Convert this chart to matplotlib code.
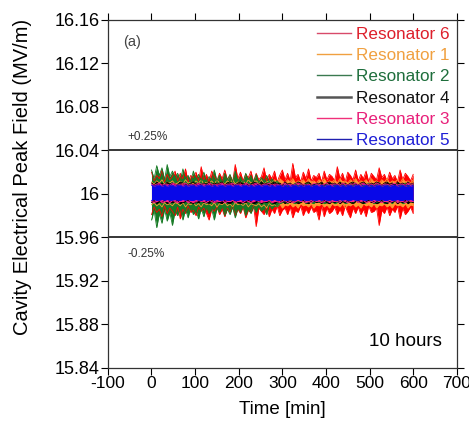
import numpy as np
import matplotlib
matplotlib.use("Agg")
import matplotlib.pyplot as plt
from matplotlib.ticker import FuncFormatter, MultipleLocator

plt.rcParams['font.family'] = ['Liberation Sans', 'DejaVu Sans']
plt.rcParams['axes.unicode_minus'] = False

# Upper / lower envelope of each noisy trace, deviation from 16.000 MV/m in units of 0.001 MV/m,
# sampled uniformly over 0..600 min (101 samples)
res6_hi = [20,12,17,14,22,11,18,13,16,21, 12,19,14,23,11,17,15,20,12,25,
           13,18,11,21,16,12,19,14,22,13, 17,11,27,14,20,12,18,15,21,11,
           19,13,16,24,12,18,14,21,11,17, 22,13,19,12,28,15,18,11,20,14,
           23,12,17,15,19,11,21,13,18,16, 12,25,14,19,11,20,17,13,22,12,
           18,14,21,11,19,16,13,24,15,18, 12,20,14,17,11,22,13,19,16,12, 18]
res6_lo = [-19,-12,-17,-14,-21,-11,-18,-13,-16,-20, -12,-23,-14,-18,-11,-17,-15,-20,-12,-16,
           -13,-18,-24,-14,-16,-12,-19,-14,-21,-13, -17,-11,-20,-14,-18,-12,-22,-15,-17,-11,
           -30,-13,-16,-19,-12,-21,-14,-18,-11,-20, -15,-13,-19,-12,-22,-15,-17,-11,-20,-14,
           -18,-12,-17,-15,-24,-11,-21,-13,-18,-16, -12,-19,-14,-20,-11,-17,-22,-13,-18,-12,
           -19,-14,-21,-11,-17,-16,-13,-29,-15,-18, -12,-20,-14,-17,-11,-23,-13,-19,-16,-12, -18]
res1_hi = [11,9,12,10,13,9,11,10,12,9, 10,12,9,13,10,11,9,12,10,13,
           9,11,10,12,9,13,10,11,9,12, 10,13,9,11,10,12,9,13,10,11,
           12,10,13,9,11,12,10,13,11,14, 12,10,13,11,14,10,12,11,13,10,
           14,11,12,10,13,11,14,10,12,11, 13,10,14,11,12,10,13,11,14,10,
           12,11,13,10,14,11,12,10,13,11, 14,10,12,11,13,10,14,11,12,10, 13]
res1_lo = [-10,-8,-11,-9,-12,-8,-10,-9,-11,-8, -9,-11,-8,-12,-9,-10,-8,-11,-9,-12,
           -8,-10,-9,-11,-8,-12,-9,-10,-8,-11, -9,-12,-8,-10,-9,-11,-8,-12,-9,-10,
           -11,-9,-12,-10,-13,-9,-11,-10,-12,-9, -13,-10,-11,-9,-12,-10,-13,-9,-11,-10,
           -12,-9,-13,-10,-11,-9,-12,-10,-13,-9, -11,-10,-12,-9,-13,-10,-11,-9,-12,-10,
           -13,-9,-11,-10,-12,-9,-13,-10,-11,-9, -12,-10,-13,-9,-11,-10,-12,-9,-13,-10, -11]
res2_hi = [22,14,26,17,24,13,27,16,21,15, 19,12,23,14,17,11,21,13,18,12,
           20,11,16,13,22,12,17,10,19,13, 18,11,21,12,16,10,19,13,17,11,
           18,10,15,12,17,11,14,10,12,9, 8,10,7,9,8,10,7,9,8,9,
           10,7,9,8,10,8,7,9,8,10, 7,9,8,10,7,8,9,7,10,8,
           9,7,8,10,7,9,8,10,7,9, 8,7,10,8,9,7,8,10,7,9, 8]
res2_lo = [-24,-15,-31,-18,-27,-14,-25,-17,-29,-16, -20,-13,-24,-14,-22,-12,-19,-15,-23,-13,
           -21,-12,-18,-14,-24,-13,-17,-11,-20,-14, -19,-12,-22,-13,-17,-11,-20,-14,-18,-12,
           -17,-11,-16,-13,-19,-10,-14,-11,-12,-9, -8,-7,-9,-6,-8,-9,-7,-8,-6,-9,
           -7,-8,-9,-6,-8,-7,-9,-8,-6,-7, -9,-8,-7,-6,-9,-8,-7,-9,-6,-8,
           -7,-9,-8,-6,-7,-9,-8,-7,-6,-9, -8,-7,-9,-6,-8,-7,-9,-8,-6,-7, -8]
res4_hi = [10,8,11,9,10,8,11,9,10,9, 8,11,10,9,8,10,11,9,10,8,
           10,9,11,8,10,9,10,11,8,10, 11,9,8,10,11,9,10,8,9,11,
           10,8,11,9,10,8,10,11,9,10, 8,11,9,10,8,9,11,10,8,10,
           11,9,8,10,9,11,8,10,11,9, 10,8,11,9,10,8,10,11,9,8,
           10,11,9,8,10,9,11,10,8,10, 11,9,10,8,11,9,10,8,11,9, 10]
res4_lo = [-8,-6,-9,-7,-8,-6,-9,-7,-8,-7, -6,-9,-8,-7,-6,-8,-9,-7,-8,-6,
           -8,-7,-9,-6,-8,-7,-8,-9,-6,-8, -9,-7,-6,-8,-9,-7,-8,-6,-7,-9,
           -8,-6,-9,-7,-8,-6,-8,-9,-7,-8, -6,-9,-7,-8,-6,-7,-9,-8,-6,-8,
           -9,-7,-6,-8,-7,-9,-6,-8,-9,-7, -8,-6,-9,-7,-8,-6,-8,-9,-7,-6,
           -8,-9,-7,-6,-8,-7,-9,-8,-6,-8, -9,-7,-8,-6,-9,-7,-8,-6,-9,-7, -8]
res3_hi = [9,8,9,10,8,9,9,8,10,9, 8,9,9,10,8,9,8,9,10,9,
           9,8,10,9,8,9,9,10,8,9, 9,10,8,9,9,8,10,9,8,9,
           10,9,8,9,9,10,8,9,9,8, 9,10,8,9,8,9,10,9,9,8,
           9,8,10,9,9,8,9,10,8,9, 9,9,8,10,9,8,9,9,10,8,
           9,10,8,9,9,8,10,9,8,9, 9,8,9,10,8,9,9,8,10,9, 9]
res3_lo = [-7,-8,-7,-6,-8,-7,-7,-8,-6,-7, -8,-7,-7,-6,-8,-7,-8,-7,-6,-7,
           -7,-8,-6,-7,-8,-7,-7,-6,-8,-7, -7,-6,-8,-7,-7,-8,-6,-7,-8,-7,
           -6,-7,-8,-7,-7,-6,-8,-7,-7,-8, -7,-6,-8,-7,-8,-7,-6,-7,-7,-8,
           -7,-8,-6,-7,-7,-8,-7,-6,-8,-7, -7,-7,-8,-6,-7,-8,-7,-7,-6,-8,
           -7,-6,-8,-7,-7,-8,-6,-7,-8,-7, -7,-8,-7,-6,-8,-7,-7,-8,-6,-7, -7]
res5_hi = [8,7,8,8,7,8,7,8,8,7, 8,8,7,8,7,8,8,7,8,8, 7,8,8,7,8,7,8,8,7,8,
           8,7,8,8,7,8,8,7,8,7, 8,8,7,8,8,7,8,7,8,8, 7,8,8,7,8,8,7,8,7,8,
           8,7,8,8,7,8,7,8,8,7, 8,8,7,8,7,8,8,7,8,8, 7,8,8,7,8,7,8,8,7,8,
           8,7,8,8,7,8,8,7,8,7, 8]
res5_lo = [-6,-5,-6,-6,-5,-6,-5,-6,-6,-5, -6,-6,-5,-6,-5,-6,-6,-5,-6,-6, -5,-6,-6,-5,-6,-5,-6,-6,-5,-6,
           -6,-5,-6,-6,-5,-6,-6,-5,-6,-5, -6,-6,-5,-6,-6,-5,-6,-5,-6,-6, -5,-6,-6,-5,-6,-6,-5,-6,-5,-6,
           -6,-5,-6,-6,-5,-6,-5,-6,-6,-5, -6,-6,-5,-6,-5,-6,-6,-5,-6,-6, -5,-6,-6,-5,-6,-5,-6,-6,-5,-6,
           -6,-5,-6,-6,-5,-6,-6,-5,-6,-5, -6]

labels = ["Resonator 6", "Resonator 1", "Resonator 2", "Resonator 4", "Resonator 3", "Resonator 5"]
highs = [res6_hi, res1_hi, res2_hi, res4_hi, res3_hi, res5_hi]
lows = [res6_lo, res1_lo, res2_lo, res4_lo, res3_lo, res5_lo]
line_colors = ["#ff0000", "#ff9a30", "#167a24", "#000000", "#ff1a8c", "#0808e8"]
text_colors = ["#dd1f2b", "#f0a040", "#1e6e3c", "#111111", "#e8207a", "#1f1fd6"]
legend_colors = ["#d84a6a", "#f0a040", "#3a7a50", "#555555", "#f0307a", "#2020b0"]

base = 16.0
t_start, t_end = 0, 600
limit_hi, limit_lo = 16.04, 15.96

fig = plt.figure(figsize=(4.69, 4.22), dpi=100)
ax = fig.add_axes([0.230, 0.128, 0.744, 0.825])

for name, hi, lo, c in zip(labels, highs, lows, line_colors):
    h = base + np.array(hi) / 1000.0
    l = base + np.array(lo) / 1000.0
    t = np.linspace(t_start, t_end, len(h))
    ax.fill_between(t, l, h, color=c, lw=0)
    ax.plot(t, h, color=c, lw=0.6, label=name)
    ax.plot(t, l, color=c, lw=0.6)

ax.axhline(limit_hi, color='black', lw=1.1)
ax.axhline(limit_lo, color='black', lw=1.1)

ax.set_xlim(-100, 700)
ax.set_ylim(15.84, 16.16)
ax.xaxis.set_major_locator(MultipleLocator(100))
ax.yaxis.set_major_locator(MultipleLocator(0.04))
ax.yaxis.set_major_formatter(FuncFormatter(lambda v, p: f"{round(v, 2):g}"))
ax.tick_params(direction='out', length=5, width=0.8, top=True, right=True,
               labeltop=False, labelright=False, pad=1)
ax.tick_params(axis='y', labelsize=13)
ax.tick_params(axis='x', labelsize=12.5)
for s in ax.spines.values():
    s.set_linewidth(0.9)
    s.set_color('#333333')

ax.set_xlabel("Time [min]", fontsize=13.5)
ax.xaxis.set_label_coords(0.5, -0.095)
ax.set_ylabel("Cavity Electrical Peak Field (MV/m)", fontsize=14.5)
ax.yaxis.set_label_coords(-0.218, 0.55)

ax.text(-66, 16.14, "(a)", fontsize=10.5, va='center', ha='left', color='#444444')
ax.text(-54, 16.052, "+0.25%", fontsize=8.5, va='center', ha='left', color='#333333')
ax.text(-54, 15.945, "-0.25%", fontsize=8.5, va='center', ha='left', color='#333333')
ax.text(665, 15.864, "10 hours", fontsize=13.5, va='center', ha='right')

leg = ax.legend(loc='upper right', frameon=False, fontsize=12.3, handlelength=2.0,
                handletextpad=0.3, labelspacing=0.37, borderaxespad=0.2, borderpad=0.2)
for txt, tc in zip(leg.get_texts(), text_colors):
    txt.set_color(tc)
for ln, lc in zip(leg.get_lines(), legend_colors):
    ln.set_color(lc)
    ln.set_linewidth(1.0)
leg.get_lines()[3].set_linewidth(1.8)

fig.savefig("out.png", dpi=100)
